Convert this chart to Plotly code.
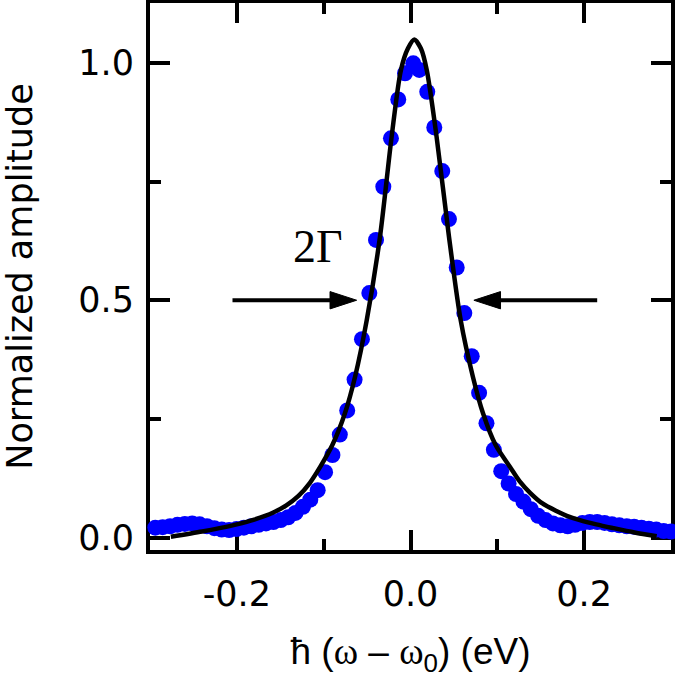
import plotly.graph_objects as go

# measured data points (energy in eV, normalized amplitude)
energy_data = [-0.302, -0.2939, -0.2854, -0.2769, -0.2684, -0.2599, -0.2514, -0.2429, -0.2344, -0.2259,
               -0.2174, -0.2089, -0.2004, -0.1919, -0.1834, -0.1749, -0.1664, -0.1579, -0.1494, -0.1409,
               -0.1324, -0.1239, -0.1154, -0.1069, -0.0984, -0.0899, -0.0814, -0.0729, -0.0644, -0.0559,
               -0.0474, -0.0397, -0.0313, -0.0225, -0.0141, -0.0063, 0.0032, 0.0101, 0.0193, 0.0274,
               0.0366, 0.0443, 0.0532, 0.062, 0.0705, 0.079, 0.0875, 0.096, 0.1045, 0.113,
               0.1215, 0.13, 0.1385, 0.147, 0.1555, 0.164, 0.1725, 0.181, 0.1895, 0.198,
               0.2065, 0.215, 0.2235, 0.232, 0.2405, 0.249, 0.2575, 0.266, 0.2745, 0.283,
               0.2915, 0.300]
amp_data = [0.021, 0.021, 0.022, 0.024, 0.027, 0.029, 0.030, 0.028, 0.024, 0.020,
            0.017, 0.016, 0.018, 0.021, 0.024, 0.027, 0.030, 0.033, 0.037, 0.043,
            0.052, 0.065, 0.080, 0.100, 0.138, 0.174, 0.217, 0.268, 0.333, 0.418,
            0.515, 0.627, 0.739, 0.841, 0.923, 0.978, 0.999, 0.985, 0.939, 0.864,
            0.772, 0.671, 0.569, 0.473, 0.382, 0.305, 0.241, 0.185, 0.140, 0.114,
            0.092, 0.076, 0.060, 0.046, 0.037, 0.030, 0.026, 0.024, 0.027, 0.031,
            0.033, 0.033, 0.031, 0.028, 0.026, 0.024, 0.023, 0.021, 0.019, 0.017,
            0.014, 0.013]

# fitted curve
energy_fit = [-0.276, -0.24, -0.22, -0.2, -0.18, -0.158, -0.143, -0.129, -0.116, -0.104,
              -0.09, -0.0755, -0.0637, -0.0504, -0.0351, -0.0217, -0.011, -0.003, 0.0044, 0.012,
              0.0187, 0.030, 0.0443, 0.0578, 0.0717, 0.0835, 0.098, 0.1146, 0.126, 0.138,
              0.152, 0.168, 0.18, 0.195, 0.214, 0.234, 0.258, 0.2835]
amp_fit = [0.002, 0.013, 0.020, 0.028, 0.038, 0.053, 0.068, 0.088, 0.115, 0.149,
           0.195, 0.262, 0.340, 0.458, 0.634, 0.845, 0.985, 1.03, 1.049, 1.03,
           0.985, 0.845, 0.634, 0.458, 0.340, 0.262, 0.195, 0.149, 0.118, 0.094,
           0.072, 0.056, 0.046, 0.037, 0.028, 0.020, 0.011, 0.003]

x_tick_vals = [-0.2, 0.0, 0.2]
x_tick_text = ["-0.2", "0.0", "0.2"]
x_minor_vals = [-0.1, 0.1]
y_tick_vals = [0.0, 0.5, 1.0]
y_tick_text = ["0.0", "0.5", "1.0"]
y_minor_vals = [0.25, 0.75]

arrow_left_x = [-0.205, -0.062]
arrow_right_x = [0.215, 0.073]
arrow_y = [0.5, 0.5]
label_2g_pos = [-0.106, 0.614]

fig = go.Figure()

fig.add_trace(go.Scatter(
    x=energy_data, y=amp_data, mode="markers",
    marker=dict(color="#0000ff", size=16, line=dict(width=0)),
    cliponaxis=False, showlegend=False))

fig.add_trace(go.Scatter(
    x=energy_fit, y=amp_fit, mode="lines",
    line=dict(color="black", width=4.5, shape="spline", smoothing=0.8),
    showlegend=False))

for ax_x in (arrow_left_x, arrow_right_x):
    fig.add_trace(go.Scatter(
        x=ax_x, y=arrow_y, mode="lines+markers",
        line=dict(color="black", width=4),
        marker=dict(symbol="arrow", size=[0, 28], color="black", opacity=1,
                    angleref="previous", line=dict(width=1, color="black")),
        showlegend=False))

fig.add_annotation(x=label_2g_pos[0], y=label_2g_pos[1], text="2Γ", showarrow=False,
                   font=dict(family="Liberation Serif", size=46, color="black"))

axis_common = dict(
    showline=True, linecolor="black", linewidth=4, mirror="ticks",
    ticks="inside", ticklen=20, tickwidth=4, tickcolor="black",
    showgrid=False, zeroline=False, layer="below traces", automargin=False,
    tickfont=dict(family="DejaVu Sans", size=35, color="black"),
)

fig.update_xaxes(
    range=[-0.3, 0.3], tickmode="array", tickvals=x_tick_vals, ticktext=x_tick_text,
    minor=dict(tickmode="array", tickvals=x_minor_vals, ticks="inside", ticklen=11,
               tickwidth=4, tickcolor="black", showgrid=False),
    ticklabelstandoff=10,
    title=dict(text='ħ (<span style="font-family:Liberation Serif">ω</span> – '
                    '<span style="font-family:Liberation Serif">ω</span><sub>0</sub>) (eV)',
               font=dict(family="Liberation Sans", size=37, color="black"), standoff=38),
    **axis_common)

fig.update_yaxes(
    range=[-0.026, 1.126], tickmode="array", tickvals=y_tick_vals, ticktext=y_tick_text,
    minor=dict(tickmode="array", tickvals=y_minor_vals, ticks="inside", ticklen=11,
               tickwidth=4, tickcolor="black", showgrid=False),
    ticklabelstandoff=5,
    title=dict(text="Normalized amplitude",
               font=dict(family="DejaVu Sans", size=35, color="black"), standoff=51),
    **axis_common)

fig.update_layout(
    width=675, height=677,
    margin=dict(l=150, r=4, t=3, b=127),
    paper_bgcolor="white", plot_bgcolor="white",
)

fig.write_html("out.html", config={"displayModeBar": False},
               post_script="document.body.style.margin='0';")
